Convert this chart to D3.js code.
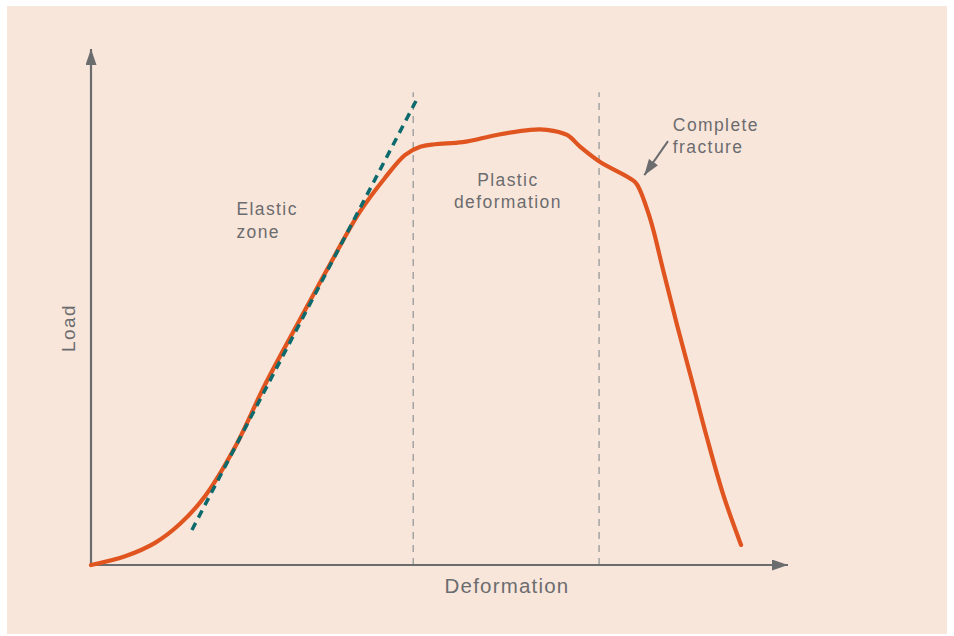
<!DOCTYPE html>
<html><head><meta charset="utf-8">
<script src="https://cdn.jsdelivr.net/npm/d3@7"></script>
<style>html,body{margin:0;padding:0;background:#fff;}svg{display:block;}</style>
</head><body>
<script>
// Load–deformation curve (arbitrary units: deformation 0–100, load 0–100)
const curveDeformation = [0, 4.9, 9.2, 12.8, 16.4, 20.7, 25.0, 30.0, 34.3, 38.6, 42.2, 45.1, 47.3, 49.4, 53.4, 58.3, 63.1, 65.5, 68.4, 70.3, 73.1, 77.4, 78.4, 80.3, 82.2, 84.2, 86.4, 88.5, 90.9, 93.4];
const curveLoad        = [0, 1.7, 4.3, 8.0, 13.4, 22.9, 35.0, 47.6, 58.3, 68.5, 75.1, 79.6, 81.2, 81.7, 82.1, 83.5, 84.5, 84.5, 83.5, 81.2, 78.3, 75.1, 74.0, 67.4, 57.3, 46.6, 35.5, 24.7, 13.4, 3.9];
// Elastic tangent line
const tangentDeformation = [14.5, 47.0];
const tangentLoad = [6.8, 90.9];
// Zone boundaries
const boundaries = [46.3, 73.0];
const boundaryTop = 91.8;
// Labels
const axisTitles = {x: "Deformation", y: "Load"};
const zoneLabels = [
  {lines: ["Elastic", "zone"], dx: 20.9, ly: 67.9, anchor: "start"},
  {lines: ["Plastic", "deformation"], dx: 59.9, ly: 73.6, anchor: "middle"},
  {lines: ["Complete", "fracture"], dx: 83.6, ly: 84.3, anchor: "start"}
];
const fractureArrow = {from: [82.9, 82.3], to: [79.5, 75.7]};

const W = 954, H = 636;
const x = d3.scaleLinear().domain([0, 100]).range([91, 787]);
const y = d3.scaleLinear().domain([0, 100]).range([565, 50]);

const textColor = "#6b6c6e", axisColor = "#6b6c6e";
const svg = d3.select("body").append("svg").attr("width", W).attr("height", H);
svg.append("rect").attr("x", 7).attr("y", 6).attr("width", 940).attr("height", 628).attr("fill", "#f9e6db");

const defs = svg.append("defs");
defs.append("marker").attr("id", "ah").attr("viewBox", "0 0 16 11").attr("refX", 16).attr("refY", 5.5)
  .attr("markerUnits", "userSpaceOnUse").attr("markerWidth", 16).attr("markerHeight", 11).attr("orient", "auto")
  .append("path").attr("d", "M0,0 L16,5.5 L0,11 Z").attr("fill", axisColor);

// Boundary dashed lines
svg.selectAll(".bound").data(boundaries).join("line")
  .attr("x1", d => x(d)).attr("x2", d => x(d)).attr("y1", y(0)).attr("y2", y(boundaryTop))
  .attr("stroke", "#a3a3a3").attr("stroke-width", 1.5).attr("stroke-dasharray", "7,6");

// Axes
svg.append("line").attr("x1", x(0)).attr("y1", y(0)).attr("x2", x(0)).attr("y2", y(100) - 1)
  .attr("stroke", axisColor).attr("stroke-width", 2.2).attr("marker-end", "url(#ah)");
svg.append("line").attr("x1", x(0) - 1).attr("y1", y(0)).attr("x2", x(100) + 1).attr("y2", y(0))
  .attr("stroke", axisColor).attr("stroke-width", 2.2).attr("marker-end", "url(#ah)");

// Main curve
const pts = curveDeformation.map((d, i) => [d, curveLoad[i]]);
svg.append("path").datum(pts)
  .attr("d", d3.line().x(d => x(d[0])).y(d => y(d[1])).curve(d3.curveCatmullRom.alpha(0.5)))
  .attr("fill", "none").attr("stroke", "#e0541f").attr("stroke-width", 4.2).attr("stroke-linecap", "round");

// Tangent
svg.append("line")
  .attr("x1", x(tangentDeformation[0])).attr("y1", y(tangentLoad[0]))
  .attr("x2", x(tangentDeformation[1])).attr("y2", y(tangentLoad[1]))
  .attr("stroke", "#0c6a6c").attr("stroke-width", 3.5).attr("stroke-dasharray", "8,6");

// Fracture arrow
svg.append("line")
  .attr("x1", x(fractureArrow.from[0])).attr("y1", y(fractureArrow.from[1]))
  .attr("x2", x(fractureArrow.to[0])).attr("y2", y(fractureArrow.to[1]))
  .attr("stroke", axisColor).attr("stroke-width", 2).attr("marker-end", "url(#ah)");

// Labels
const font = "'Liberation Sans', Arial, sans-serif";
zoneLabels.forEach(l => {
  const t = svg.append("text").attr("x", x(l.dx)).attr("y", y(l.ly))
    .attr("fill", textColor).attr("font-family", font).attr("font-size", 17.5)
    .attr("letter-spacing", 1.4).attr("text-anchor", l.anchor);
  l.lines.forEach((s, i) => t.append("tspan").attr("x", x(l.dx)).attr("dy", i ? 22.5 : 0).text(s));
});
svg.append("text").attr("x", 507).attr("y", 592.5).attr("text-anchor", "middle")
  .attr("fill", textColor).attr("font-family", font).attr("font-size", 20.5).attr("letter-spacing", 1.2)
  .text(axisTitles.x);
svg.append("text").attr("transform", "translate(75,328) rotate(-90)").attr("text-anchor", "middle")
  .attr("fill", textColor).attr("font-family", font).attr("font-size", 19).attr("letter-spacing", 1.4)
  .text(axisTitles.y);
</script>
</body></html>
